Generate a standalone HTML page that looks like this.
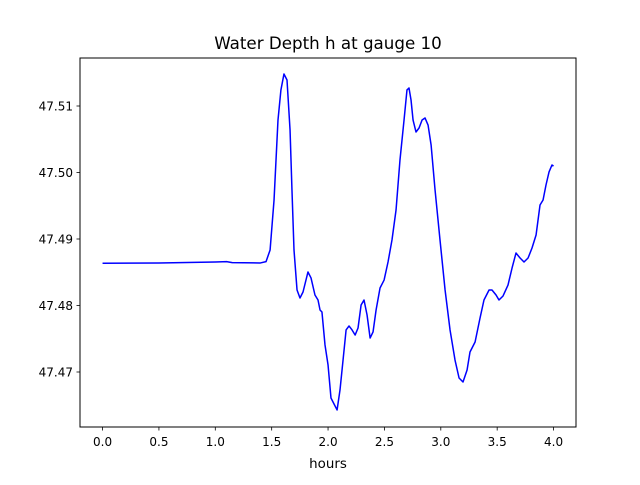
<!DOCTYPE html>
<html><head><meta charset="utf-8"><style>
body{margin:0;background:#fff;}
svg text{font-family:"DejaVu Sans","Liberation Sans",sans-serif;fill:#000;}
</style></head><body>
<svg id="chart" width="640" height="480" xmlns="http://www.w3.org/2000/svg">
<rect x="0" y="0" width="640" height="480" fill="#fff"/>
<text x="328" y="49" font-size="16.7" text-anchor="middle">Water Depth h at gauge 10</text>
<text x="328" y="468" font-size="13.4" text-anchor="middle">hours</text>
<g id="plot"></g>
<rect x="80" y="58" width="496" height="369" fill="none" stroke="#000" stroke-width="1"/>
</svg>
<script>
const hours=[0,0.5,1.0,1.1,1.15,1.4,1.45,1.486,1.521,1.556,1.582,1.609,1.636,1.663,1.680,1.698,1.725,1.751,1.778,1.822,1.849,1.884,1.911,1.929,1.946,1.973,2.000,2.026,2.053,2.080,2.106,2.133,2.160,2.186,2.213,2.240,2.266,2.293,2.319,2.346,2.373,2.399,2.426,2.461,2.497,2.532,2.567,2.603,2.638,2.674,2.700,2.718,2.736,2.754,2.780,2.807,2.834,2.860,2.887,2.914,2.949,2.993,3.038,3.082,3.126,3.162,3.197,3.233,3.259,3.304,3.348,3.383,3.428,3.454,3.490,3.516,3.552,3.596,3.632,3.667,3.703,3.738,3.774,3.809,3.845,3.880,3.907,3.933,3.960,3.986,4.000];
const depth=[47.48635,47.48640,47.48655,47.48660,47.48645,47.48640,47.48660,47.48835,47.49586,47.50789,47.51241,47.51481,47.51391,47.50639,47.49737,47.48835,47.48233,47.48113,47.48203,47.48504,47.48414,47.48158,47.48083,47.47932,47.47902,47.47406,47.47105,47.46609,47.46519,47.46429,47.46729,47.47180,47.47632,47.47692,47.47632,47.47556,47.47662,47.48008,47.48083,47.47857,47.47511,47.47602,47.47932,47.48263,47.48383,47.48654,47.48985,47.49436,47.50188,47.50789,47.51241,47.51271,47.51090,47.50789,47.50609,47.50669,47.50789,47.50820,47.50714,47.50414,47.49737,47.48985,47.48233,47.47632,47.47180,47.46910,47.46850,47.47030,47.47301,47.47451,47.47812,47.48083,47.48233,47.48233,47.48158,47.48083,47.48143,47.48308,47.48564,47.48789,47.48714,47.48654,47.48714,47.48865,47.49060,47.49511,47.49586,47.49812,47.50008,47.50113,47.50098];
const xTicks=[0,0.5,1.0,1.5,2.0,2.5,3.0,3.5,4.0];
const xTickLabels=["0.0","0.5","1.0","1.5","2.0","2.5","3.0","3.5","4.0"];
const yTicks=[47.47,47.48,47.49,47.50,47.51];
const yTickLabels=["47.47","47.48","47.49","47.50","47.51"];
const X=t=>102.55+t*112.75;
const Y=v=>372-(v-47.47)*6650;
const NS="http://www.w3.org/2000/svg";
const g=document.getElementById('plot');
function mk(tag,attrs){const e=document.createElementNS(NS,tag);for(const k in attrs)e.setAttribute(k,attrs[k]);g.appendChild(e);return e;}
xTicks.forEach((t,i)=>{
 const l=mk('line',{x1:X(t),x2:X(t),y1:427,y2:430.5,stroke:'#000','stroke-width':0.8});
 
 
 const tx=mk('text',{x:X(t),y:446,'font-size':12,'text-anchor':'middle'});
 tx.textContent=xTickLabels[i];
 
 
});
yTicks.forEach((v,i)=>{
 const l=mk('line',{x1:76.5,x2:80,y1:Y(v),y2:Y(v),stroke:'#000','stroke-width':0.8});
 
 
 const tx=mk('text',{x:73,y:Y(v)+4.3,'font-size':12,'text-anchor':'end'});
 tx.textContent=yTickLabels[i];
 
 
});
const pts=hours.map((t,i)=>X(t).toFixed(2)+','+Y(depth[i]).toFixed(2)).join(' ');
const pl=mk('polyline',{points:pts,fill:'none',stroke:'#0000ff','stroke-width':1.5,'stroke-linejoin':'round'});


</script>
</body></html>
